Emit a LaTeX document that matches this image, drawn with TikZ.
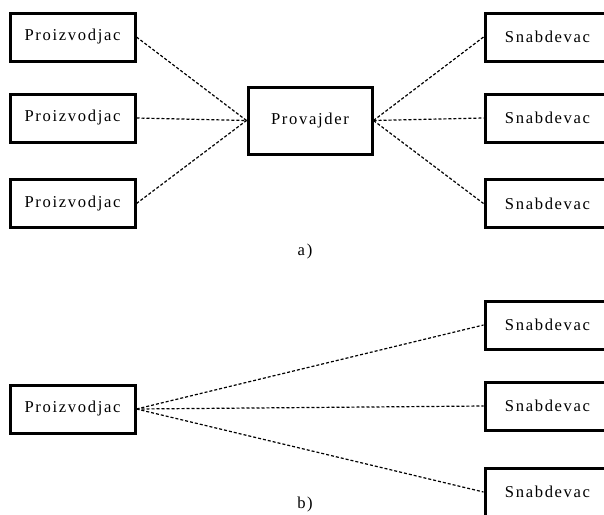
\documentclass[tikz,border=0pt]{standalone}
\usepackage{fontspec}
\setmainfont{Liberation Serif}
\usepackage{tikz}
\usetikzlibrary{positioning}

\begin{document}
\begin{tikzpicture}[x=1pt, y=-1pt,
        unit/.style={draw, line width=3pt, minimum width=125pt, minimum height=48pt, inner sep=0pt, font=\fontsize{16.6}{18}\selectfont\addfontfeatures{LetterSpace=10}},
        link/.style={line width=1.2pt, dash pattern=on 3pt off 2pt}]
        \useasboundingbox (0,0) rectangle (604,514);

        % a) producers - provider - suppliers
        \node[unit] (pa1) at (72.5, 37) {Proizvodjac};
        \node[unit] (pa2) at (72.5, 118) {Proizvodjac};
        \node[unit] (pa3) at (72.5, 203.5) {Proizvodjac};

        \node[unit, minimum width=124pt, minimum height=67pt] (prov) at (310, 120.5) {Provajder};

        \node[unit] (sa1) at (547.5, 37) {Snabdevac};
        \node[unit] (sa2) at (547.5, 118) {Snabdevac};
        \node[unit] (sa3) at (547.5, 203.5) {Snabdevac};

        \draw[link] (pa1.east) -- (prov.west);
        \draw[link] (pa2.east) -- (prov.west);
        \draw[link] (pa3.east) -- (prov.west);
        \draw[link] (prov.east) -- (sa1.west);
        \draw[link] (prov.east) -- (sa2.west);
        \draw[link] (prov.east) -- (sa3.west);

        \node[font=\fontsize{16.6}{18}\selectfont\addfontfeatures{LetterSpace=10}] (capa) at (305, 252) {a)};

        % b) producer - suppliers directly
        \node[unit] (pb) at (72.5, 409) {Proizvodjac};

        \node[unit] (sb1) at (547.5, 325) {Snabdevac};
        \node[unit] (sb2) at (547.5, 406) {Snabdevac};
        \node[unit] (sb3) at (547.5, 492) {Snabdevac};

        \draw[link] (pb.east) -- (sb1.west);
        \draw[link] (pb.east) -- (sb2.west);
        \draw[link] (pb.east) -- (sb3.west);

        \node[font=\fontsize{16.6}{18}\selectfont\addfontfeatures{LetterSpace=10}] (capb) at (305, 504) {b)};

    \end{tikzpicture}
\end{document}
